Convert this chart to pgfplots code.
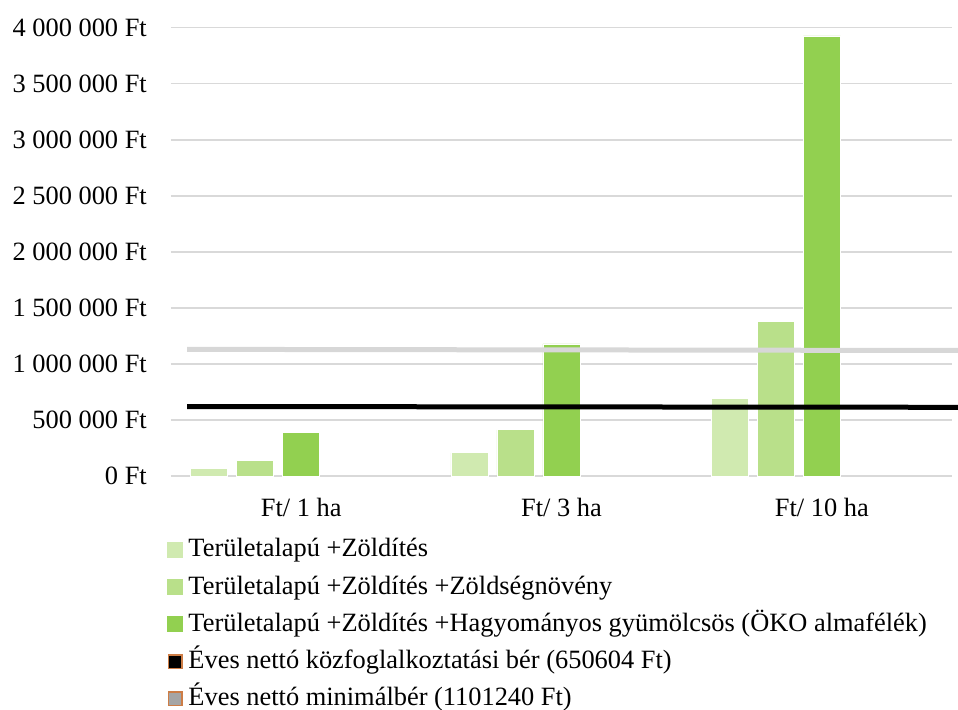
\documentclass[border=0pt]{standalone}
\usepackage{pgfplots}
\pgfplotsset{compat=1.18}
\usepackage{fontspec}
\setmainfont{Liberation Serif}
\definecolor{gA}{RGB}{208,234,176}
\definecolor{gB}{RGB}{185,224,138}
\definecolor{gC}{RGB}{146,208,80}
\definecolor{gridg}{RGB}{217,217,217}
\definecolor{lineg}{RGB}{215,215,215}
\definecolor{bord}{RGB}{205,125,70}
\definecolor{markg}{RGB}{165,165,165}
\begin{document}
\begin{tikzpicture}
\path[use as bounding box] (-171bp,-234bp) rectangle (787bp,476bp);
\begin{axis}[
  at={(0,0)}, anchor=south west,
  scale only axis, width=781bp, height=448.3bp,
  xmin=-0.5, xmax=2.5, ymin=0, ymax=4000000,
  clip=false,
  ybar, bar width=37bp,
  axis line style={draw=none},
  major tick length=0pt,
  xtick={0,1,2},
  xticklabels={Ft/ 1 ha, Ft/ 3 ha, Ft/ 10 ha},
  ytick={0,500000,1000000,1500000,2000000,2500000,3000000,3500000,4000000},
  yticklabels={0 Ft, 500 000 Ft, 1 000 000 Ft, 1 500 000 Ft, 2 000 000 Ft, 2 500 000 Ft, 3 000 000 Ft, 3 500 000 Ft, 4 000 000 Ft},
  scaled y ticks=false,
  ymajorgrids, major grid style={draw=gridg, line width=1.5bp},
  tick label style={font=\fontsize{26.5}{31}\selectfont},
  xticklabel style={inner sep=0pt, anchor=north, yshift=-22bp},
  yticklabel style={inner sep=0pt, anchor=east, xshift=-24bp},
  legend cell align=left,
  legend style={at={(0,0)}, anchor=north west, xshift=-3.7bp, yshift=-56.7bp,
    draw=none, fill=none, inner sep=0pt, outer sep=0pt, row sep=0pt, column sep=5.4bp,
    font=\fontsize{26.5}{31}\selectfont,
    nodes={inner sep=0pt, outer sep=0pt, text height=24bp, text depth=13.3bp}},
]
\addplot[fill=gA, draw=white, line width=0.8bp, bar shift=-92bp,
  legend image code/.code={\fill[gA] (0bp,-5.85bp) rectangle (15bp,9.15bp);}]
  coordinates {(0,69000) (1,207000) (2,690000)};
\addplot[fill=gB, draw=white, line width=0.8bp, bar shift=-46bp,
  legend image code/.code={\fill[gB] (0bp,-5.85bp) rectangle (15bp,9.15bp);}]
  coordinates {(0,137500) (1,412000) (2,1375000)};
\addplot[fill=gC, draw=white, line width=0.8bp, bar shift=0bp,
  legend image code/.code={\fill[gC] (0bp,-5.85bp) rectangle (15bp,9.15bp);}]
  coordinates {(0,392600) (1,1178000) (2,3926000)};
\addplot[sharp plot, draw=black, line width=5bp, no markers,
  legend image code/.code={\filldraw[fill=black, draw=bord, line width=1.5bp] (0.75bp,-5.1bp) rectangle (14.25bp,8.4bp);}]
  coordinates {(-0.438,620000) (2.524,613000)};
\addplot[sharp plot, draw=lineg, line width=5bp, no markers,
  legend image code/.code={\filldraw[fill=markg, draw=bord, line width=1.5bp] (0.75bp,-5.1bp) rectangle (14.25bp,8.4bp);}]
  coordinates {(-0.438,1130000) (2.524,1120000)};
\legend{Területalapú +Zöldítés,
  Területalapú +Zöldítés +Zöldségnövény,
  Területalapú +Zöldítés +Hagyományos gyümölcsös (ÖKO almafélék),
  Éves nettó közfoglalkoztatási bér (650604 Ft),
  Éves nettó minimálbér (1101240 Ft)}
\end{axis}
\end{tikzpicture}
\end{document}
